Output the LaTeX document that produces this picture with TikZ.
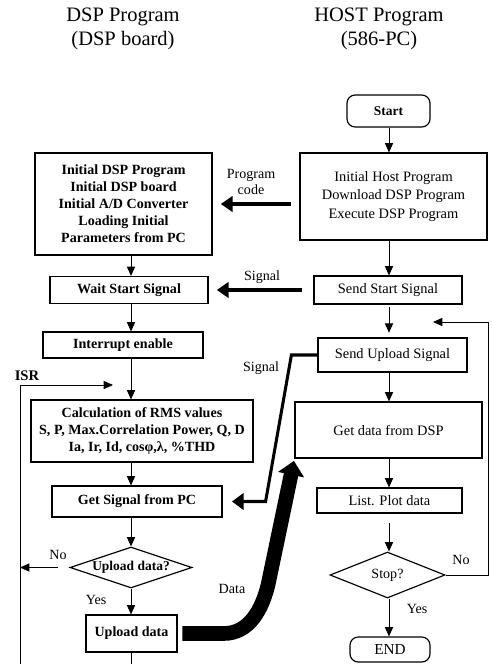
\documentclass[tikz,border=0pt]{standalone}
\usepackage{fontspec}
\setmainfont{Liberation Serif}
\usetikzlibrary{arrows.meta,shapes.geometric,calc}

\begin{document}
\begin{tikzpicture}[x=0.03cm,y=-0.03cm,
  box/.style={draw,line width=1pt,align=center,inner sep=1pt},
  dspbox/.style={box,font=\fontsize{12}{14.5}\selectfont\bfseries},
  hostbox/.style={box,font=\fontsize{12.3}{15.5}\selectfont},
  term/.style={hostbox,rounded corners=7pt},
  decision/.style={draw,line width=1pt,diamond,aspect=3,inner sep=0pt},
  arr/.style={line width=0.8pt,-{Triangle[length=8pt,width=7pt]}},
  fat/.style={line width=4pt,-{Triangle[length=10pt,width=13pt]},shorten <=7pt,shorten >=7pt},
  sig/.style={line width=2.6pt,-{Triangle[length=10pt,width=14pt]}},
  data/.style={line width=12.5pt,-{Triangle[length=12pt,width=22pt]}},
  lab/.style={font=\fontsize{12}{13.5}\selectfont,align=center}]
  \useasboundingbox (0,0) rectangle (491,664);
  \node[lab,font=\fontsize{17.5}{20.5}\selectfont] (tdsp) at (123,29) {DSP Program\\(DSP board)};
  \node[lab,font=\fontsize{17.5}{20.5}\selectfont] (thost) at (379,29) {HOST Program\\(586-PC)};

  \node[term,font=\fontsize{11.5}{13}\selectfont\bfseries,minimum width=2.49cm,minimum height=0.96cm] (start) at (388.5,111) {Start};
  \node[hostbox,minimum width=5.61cm,minimum height=2.61cm] (hinit) at (393.5,196.5) {Initial Host Program\\Download DSP Program\\Execute DSP Program};
  \node[hostbox,minimum width=4.44cm,minimum height=0.84cm] (sstart) at (388,290) {Send Start Signal};
  \node[hostbox,minimum width=4.47cm,minimum height=1.02cm] (supload) at (392.5,355) {Send Upload Signal};
  \node[hostbox,minimum width=5.61cm,minimum height=1.68cm] (getdata) at (388.5,430) {Get data from DSP};
  \node[hostbox,minimum width=4.35cm,minimum height=0.75cm] (list) at (389.5,500.5) {List. Plot data};
  \node[decision,font=\fontsize{12}{14}\selectfont,minimum width=3.45cm,minimum height=1.38cm] (stop) at (387.5,575) {Stop?};
  \node[term,font=\fontsize{13}{15}\selectfont,minimum width=2.4cm,minimum height=0.75cm] (endn) at (390,649.5) {END};

  \node[dspbox,minimum width=5.31cm,minimum height=3.06cm] (dinit) at (123.5,204) {Initial DSP Program\\Initial DSP board\\Initial A/D Converter\\Loading Initial\\Parameters from PC};
  \node[dspbox,minimum width=4.74cm,minimum height=0.81cm] (wait) at (129,290) {Wait Start Signal};
  \node[dspbox,minimum width=4.8cm,minimum height=0.78cm] (intr) at (123,345) {Interrupt enable};
  \node[dspbox,minimum width=6.66cm,minimum height=1.86cm] (calc) at (142,431) {Calculation of RMS values\\S, P, Max.Correlation Power, Q, D\\Ia, Ir, Id, cosφ,λ, \%THD};
  \node[dspbox,minimum width=5.1cm,minimum height=0.93cm] (getsig) at (137,501.5) {Get Signal from PC};
  \node[decision,font=\fontsize{11.5}{13}\selectfont\bfseries,minimum width=3.66cm,minimum height=1.23cm] (upq) at (131,567.5) {Upload data?};
  \node[dspbox,minimum width=2.73cm,minimum height=1.11cm] (upl) at (131.5,633.5) {Upload data};

  \coordinate (axL) at (131,0);
  \coordinate (axR) at (389,0);
  \coordinate (isrbot) at (20,664);
  \coordinate (isrin) at (113,385);
  \coordinate (lbot) at (131.5,664);
  \coordinate (loopin) at (433,322);

  \draw[arr] (start.south -| axR) -- (hinit.north -| axR);
  \draw[arr] (hinit.south -| axR) -- (sstart.north -| axR);
  \draw[arr,shorten <=2pt,shorten >=4pt] (sstart.south -| axR) -- (supload.north -| axR);
  \draw[arr] (supload.south -| axR) -- (getdata.north -| axR);
  \draw[arr] (getdata.south -| axR) -- (list.north -| axR);
  \draw[arr,shorten <=8pt] (list.south -| axR) -- (stop.north -| axR);
  \draw[arr] (stop.south -| axR) -- (endn.north -| axR);
  \draw[arr] (stop.east) -- ++(43,0) |- (loopin);

  \draw[arr] (dinit.south -| axL) -- (wait.north -| axL);
  \draw[arr] (wait.south -| axL) -- (intr.north -| axL);
  \draw[arr] (intr.south -| axL) -- (calc.north -| axL);
  \draw[arr] (calc.south -| axL) -- (getsig.north -| axL);
  \draw[arr] (getsig.south -| axL) -- (upq.north);
  \draw[arr] (upq.south) -- (upl.north -| upq.south);
  \draw[line width=0.8pt] (upl.south) -- (lbot);
  \draw[arr] (isrbot) |- (isrin);
  \draw[arr,shorten <=10pt] (upq.west) -- (upq.west -| isrbot);

  \draw[fat] (dinit.east -| hinit.west) -- (dinit.east);
  \draw[fat,shorten <=10pt] (sstart.west) -- (sstart.west -| wait.east);
  \draw[sig,shorten >=8pt] (supload.west) -- ++(-26,0) -- ($(getsig.east)+(43,0)$) -- (getsig.east);
  \draw[data,shorten <=4pt,shorten >=2pt] (upl.east) -- ++(46,0) .. controls +(26,0) and (262,609) .. (268,585) -- (getdata.south west);

  \node[lab] (lprog) at (251,182) {Program\\code};
  \node[lab] (lsig1) at (262,277) {Signal};
  \node[lab] (lsig2) at (261,368) {Signal};
  \node[lab,font=\fontsize{12.5}{14}\selectfont\bfseries] (lisr) at (27,376) {ISR};
  \node[lab] (lno1) at (58,555) {No};
  \node[lab] (lyes1) at (96,600) {Yes};
  \node[lab] (ldata) at (232,589) {Data};
  \node[lab] (lno2) at (461,560) {No};
  \node[lab] (lyes2) at (417,609) {Yes};
\end{tikzpicture}
\end{document}
